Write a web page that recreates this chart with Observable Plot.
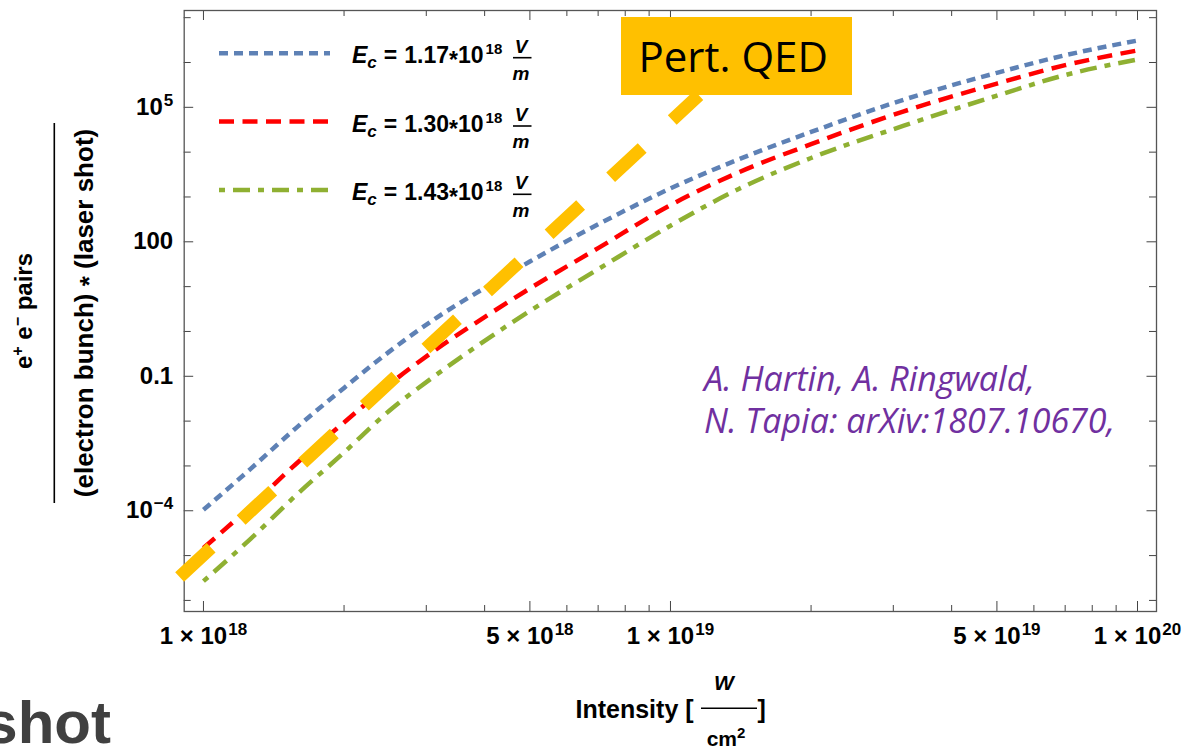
<!DOCTYPE html>
<html><head><meta charset="utf-8">
<script src="https://cdn.jsdelivr.net/npm/d3@7"></script>
<script src="https://cdn.jsdelivr.net/npm/@observablehq/plot@0.6"></script>
<style>
html,body{margin:0;padding:0;background:#fff;}
#chart{width:1183px;height:748px;overflow:hidden;position:relative;}
</style></head><body><div id="chart"></div>
<script>
// ---------- data ----------
const intensity   = [1.0e18, 1.26e18, 1.58e18, 2.0e18, 2.5e18, 3.16e18, 4.0e18, 5.0e18, 7.0e18, 1.0e19, 1.4e19, 2.0e19, 3.16e19, 5.0e19, 7.0e19, 1.0e20];
const pairsEc117  = [1.05e-4, 8.51e-4, 7.08e-3, 5.50e-2, 0.355, 2.04, 9.33, 36.3, 245, 1550, 6920, 2.82e4, 1.48e5, 5.89e5, 1.45e6, 3.09e6];
const pairsEc130  = [1.48e-5, 1.23e-4, 1.12e-3, 9.33e-3, 6.61e-2, 0.407, 2.09, 9.12, 72.4, 661, 3550, 1.51e4, 8.13e4, 3.39e5, 8.71e5, 1.86e6];
const pairsEc143  = [2.69e-6, 2.34e-5, 2.24e-4, 2.00e-3, 1.70e-2, 0.110, 0.617, 2.88, 24.5, 229, 1510, 7410, 3.89e4, 1.82e5, 5.25e5, 1.17e6];
const pertQEDIntensity = [8.89e17, 1.15e19];
const pertQEDPairs     = [3.32e-6, 1.85e5];
const legendEc = ["1.17", "1.30", "1.43"];
const xMajorTicks = [1e18, 5e18, 1e19, 5e19, 1e20];
const xMinorTicks = [2e18, 3e18, 4e18, 6e18, 7e18, 8e18, 9e18, 2e19, 3e19, 4e19, 6e19, 7e19, 8e19, 9e19];
const yMajorTicks = [1e-4, 0.1, 100, 1e5];
const yMinorTicks = [1e-6, 1e-5, 1e-3, 1e-2, 1, 10, 1e3, 1e4, 1e6, 1e7];
const citation = ["A. Hartin, A. Ringwald,", "N. Tapia: arXiv:1807.10670,"];

// ---------- styles ----------
const seriesColors = ["#5E81B5", "#FF0000", "#8FB032"];
const seriesDash = ["9,6", "15,8.5", "6,8,17,8"];
const SANS = "'Liberation Sans', Arial, Helvetica, sans-serif";
const OPEN = "'Open Sans', 'Noto Sans', sans-serif";

const W = 1183, H = 748;
const mL = 183.7, mR = W - 1156, mT = 10, mB = H - 611;
const frameH = H - mT - mB, frameW = W - mL - mR;

function fmtX(d) {
  const e = Math.floor(Math.log10(d) + 1e-9);
  const m = Math.round(d / Math.pow(10, e));
  return `${m} \u00d7 10|${e}`;
}
function fmtY(d) {
  const e = Math.round(Math.log10(d));
  if (e >= 4 || e <= -4) return `10|${e < 0 ? "\u2212" + (-e) : e}`;
  return String(d);
}

const seriesValues = [pairsEc117, pairsEc130, pairsEc143];
const lineMarks = seriesValues.map((vals, k) =>
  Plot.line(intensity.map((I, i) => ({I, N: vals[i]})), {
    x: "I", y: "N", stroke: seriesColors[k], strokeWidth: 4.5,
    strokeDasharray: seriesDash[k], strokeLinecap: "butt", curve: "monotone-x"
  }));
const qedRows = pertQEDIntensity.map((I, i) => ({I, N: pertQEDPairs[i]}));

const tickColor = "#444";
const svg = Plot.plot({
  width: W, height: H,
  marginLeft: mL, marginRight: mR, marginTop: mT, marginBottom: mB,
  x: {type: "log", domain: [9.094e17, 1.0982e20], label: null},
  y: {type: "log", domain: [5.66e-7, 1.445e7], label: null},
  style: {fontFamily: SANS, fontWeight: "bold", fontSize: "24px", color: "#000", background: "#fff", overflow: "visible"},
  marks: [
    Plot.axisX(xMajorTicks, {anchor: "bottom", tickSize: 0, tickPadding: 15, fontSize: 24, tickFormat: fmtX, label: null}),
    Plot.axisY(yMajorTicks, {anchor: "left", tickSize: 0, tickPadding: 11, fontSize: 24, tickFormat: fmtY, label: null}),
    // inward ticks on all four sides
    Plot.ruleX(xMajorTicks, {x: d => d, insetTop: frameH - 10, stroke: tickColor}),
    Plot.ruleX(xMinorTicks, {x: d => d, insetTop: frameH - 6, stroke: tickColor}),
    Plot.ruleX(xMajorTicks, {x: d => d, insetBottom: frameH - 10, stroke: tickColor}),
    Plot.ruleX(xMinorTicks, {x: d => d, insetBottom: frameH - 6, stroke: tickColor}),
    Plot.ruleY(yMajorTicks, {y: d => d, insetRight: frameW - 9.5, stroke: tickColor}),
    Plot.ruleY(yMinorTicks, {y: d => d, insetRight: frameW - 7, stroke: tickColor}),
    Plot.ruleY(yMajorTicks, {y: d => d, insetLeft: frameW - 9.5, stroke: tickColor}),
    Plot.ruleY(yMinorTicks, {y: d => d, insetLeft: frameW - 7, stroke: tickColor}),
    Plot.frame({stroke: "#555", strokeWidth: 1.3}),
    ...lineMarks,
    Plot.line(qedRows, {x: "I", y: "N", stroke: "#FFC000", strokeWidth: 13, strokeDasharray: "43,41", strokeLinecap: "butt"})
  ]
});
document.getElementById("chart").appendChild(svg);

// superscripts in tick labels
svg.querySelectorAll('[aria-label$="tick label"] text').forEach(t => {
  const s = t.textContent;
  if (!s.includes("|")) return;
  const [base, sup] = s.split("|");
  t.textContent = "";
  const ns = "http://www.w3.org/2000/svg";
  const a = document.createElementNS(ns, "tspan"); a.textContent = base; t.appendChild(a);
  const b = document.createElementNS(ns, "tspan"); b.textContent = sup;
  b.setAttribute("font-size", "17"); b.setAttribute("dy", "-9"); b.setAttribute("dx", "1");
  t.appendChild(b);
});

// ---------- annotations ----------
const g = d3.select(svg).append("g").attr("class", "annotations").attr("text-anchor", "start");

// legend
legendEc.forEach((ec, i) => {
  const y0 = 53.3 + i * 68.3;
  g.append("line").attr("x1", 219).attr("x2", 330).attr("y1", y0).attr("y2", y0)
    .attr("stroke", seriesColors[i]).attr("stroke-width", 4.5).attr("stroke-dasharray", seriesDash[i]);
  const t = g.append("text").attr("x", 352).attr("y", y0 + 10).attr("text-anchor", "start")
    .attr("font-family", SANS).attr("font-size", 23).attr("font-weight", "bold").attr("fill", "#000");
  t.append("tspan").attr("font-style", "italic").text("E");
  t.append("tspan").attr("font-style", "italic").attr("font-size", 17).attr("dy", 5).text("c");
  t.append("tspan").attr("dy", -5).attr("dx", 7).text("=");
  t.append("tspan").attr("dx", 7).text(ec);
  t.append("tspan").attr("dy", 5).attr("dx", 0).text("*");
  t.append("tspan").attr("dy", -5).attr("dx", 0).text("10");
  t.append("tspan").attr("font-size", 15).attr("dy", -9).attr("dx", 2).text("18");
  g.append("text").attr("x", 521).attr("y", y0 - 0.6).attr("text-anchor", "middle")
    .attr("font-family", SANS).attr("font-size", 19).attr("font-weight", "bold").attr("font-style", "italic").text("V");
  g.append("line").attr("x1", 513).attr("x2", 531.5).attr("y1", y0 + 4.4).attr("y2", y0 + 4.4)
    .attr("stroke", "#000").attr("stroke-width", 1.6);
  g.append("text").attr("x", 521).attr("y", y0 + 26.7).attr("text-anchor", "middle")
    .attr("font-family", SANS).attr("font-size", 19).attr("font-weight", "bold").attr("font-style", "italic").text("m");
});

// y-axis label (rotated fraction)
const yl = g.append("g").attr("transform", "translate(54.3,313) rotate(-90)")
  .attr("font-family", SANS).attr("font-weight", "bold").attr("fill", "#000");
const num = yl.append("text").attr("x", 2).attr("y", -22.6).attr("text-anchor", "middle").attr("font-size", 24);
num.append("tspan").text("e");
num.append("tspan").attr("font-size", 16).attr("dy", -9).text("+");
num.append("tspan").attr("dy", 9).text(" e");
num.append("tspan").attr("font-size", 16).attr("dy", -9).text("\u2212");
num.append("tspan").attr("dy", 9).text(" pairs");
yl.append("line").attr("x1", -190).attr("x2", 190).attr("y1", 0).attr("y2", 0).attr("stroke", "#000").attr("stroke-width", 1.6);
const den = yl.append("text").attr("x", 0).attr("y", 38.7).attr("text-anchor", "middle").attr("font-size", 26);
den.append("tspan").text("(electron bunch) ");
den.append("tspan").attr("dy", 5).text("*");
den.append("tspan").attr("dy", -5).text(" (laser shot)");

// x-axis label
const xl = g.append("g").attr("font-family", SANS).attr("font-weight", "bold").attr("fill", "#000");
xl.append("text").attr("x", 575.5).attr("y", 718.3).attr("text-anchor", "start").attr("font-size", 25).text("Intensity [");
xl.append("text").attr("x", 724).attr("y", 689.5).attr("text-anchor", "middle").attr("font-size", 21).attr("font-style", "italic").text("W");
xl.append("line").attr("x1", 701).attr("x2", 757).attr("y1", 708.3).attr("y2", 708.3).attr("stroke", "#000").attr("stroke-width", 1.6);
const cm = xl.append("text").attr("x", 726).attr("y", 745.5).attr("text-anchor", "middle").attr("font-size", 21);
cm.append("tspan").text("cm");
cm.append("tspan").attr("font-size", 15).attr("dy", -8).text("2");
xl.append("text").attr("x", 757.5).attr("y", 718.3).attr("text-anchor", "start").attr("font-size", 25).text("]");

// Pert. QED callout
g.append("rect").attr("x", 621).attr("y", 17).attr("width", 231).attr("height", 78).attr("fill", "#FFC000");
g.append("text").attr("x", 638.5).attr("y", 72).attr("text-anchor", "start").attr("font-family", OPEN).attr("font-weight", "normal")
  .attr("font-size", 42).attr("fill", "#000").text("Pert. QED");

// citation
citation.forEach((line, i) => {
  g.append("text").attr("x", 704).attr("y", 390.7 + i * 42.6).attr("text-anchor", "start").attr("font-family", OPEN)
    .attr("font-weight", "normal").attr("font-style", "italic").attr("font-size", 34).attr("fill", "#7030A0").text(line);
});

// slide remnant
g.append("text").attr("x", 111).attr("y", 743.3).attr("text-anchor", "end").attr("font-family", SANS)
  .attr("font-weight", "bold").attr("font-size", 60).attr("fill", "#404040").text("shot");
</script></body></html>
